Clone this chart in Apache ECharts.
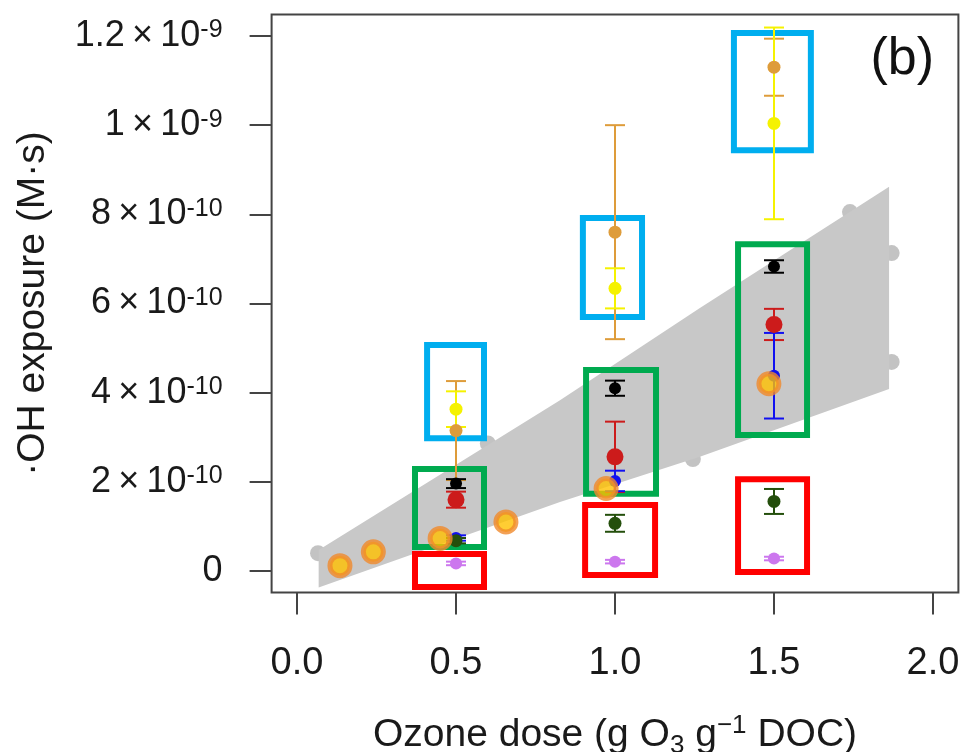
<!DOCTYPE html>
<html>
<head>
<meta charset="utf-8">
<script src="https://cdn.jsdelivr.net/npm/echarts@6/dist/echarts.min.js"></script>
<style>
  html, body { margin: 0; padding: 0; background: #fff; }
  #chart { width: 965px; height: 752px; }
</style>
</head>
<body>
<div id="chart"></div>
<script>
// ---- data (·OH exposure in units of 1e-10 M·s) ----
const doses = [0.5, 1.0, 1.5];

const orangeVals = [3.15, 7.60, 11.30];
const orangeErr  = [1.11, 2.40, 0.64];
const yellowVals = [3.63, 6.34, 10.04];
const yellowErr  = [0.40, 0.45, 2.15];
const blackVals  = [1.96, 4.10, 6.83];
const blackErr   = [0.10, 0.17, 0.14];
const redVals    = [1.60, 2.56, 5.53];
const redErr     = [0.18, 0.79, 0.35];
const blueVals   = [0.74, 2.02, 4.38];
const blueErr    = [0.06, 0.23, 0.96];
const greenVals  = [0.68, 1.07, 1.56];
const greenErr   = [0.06, 0.19, 0.28];
const violetVals = [0.17, 0.21, 0.28];
const violetErr  = [0.04, 0.04, 0.04];

const effluentDose = [0.135, 0.24, 0.45, 0.657, 0.972, 1.484];
const effluentVals = [0.12, 0.43, 0.73, 1.10, 1.85, 4.20];

const fitDose = [0.066, 0.60, 1.245, 1.739, 1.87, 1.87];
const fitVals = [0.40, 2.86, 2.51, 8.05, 7.13, 4.69];

const bandDose  = [0.068, 0.827, 1.267, 1.862];
const bandUpper = [0.47, 3.83, 5.90, 8.62];
const bandLower = [-0.37, 1.55, 2.56, 4.08];

// highlight boxes: [dose from, dose to, exposure from, exposure to]
const boxesBlue  = [[0.409, 0.588, 2.98, 5.07], [0.899, 1.085, 5.70, 7.92], [1.374, 1.616, 9.44, 12.07]];
const boxesGreen = [[0.371, 0.588, 0.54, 2.29], [0.909, 1.129, 1.73, 4.51], [1.387, 1.604, 3.05, 7.33]];
const boxesRed   = [[0.371, 0.588, -0.36, 0.38], [0.906, 1.126, -0.09, 1.48], [1.387, 1.604, -0.02, 2.06]];

const xTicks = [0, 0.5, 1.0, 1.5, 2.0];
const yTicks = [0, 2, 4, 6, 8, 10, 12];
const yTickMant = ['0', '2', '4', '6', '8', '1', '1.2'];
const yTickExp  = ['', '-10', '-10', '-10', '-10', '-9', '-9'];

// ---- helpers ----
const FONT = '"Liberation Sans", Arial, Helvetica, sans-serif';
const INK = '#1a1a1a';

function boxSeries(boxes, color) {
  return {
    type: 'custom', z: 3, silent: true,
    data: boxes,
    encode: { x: [0, 1], y: [2, 3] },
    renderItem: (params, api) => {
      const p0 = api.coord([api.value(0), api.value(3)]);
      const p1 = api.coord([api.value(1), api.value(2)]);
      return {
        type: 'rect',
        shape: { x: p0[0], y: p0[1], width: p1[0] - p0[0], height: p1[1] - p0[1] },
        style: { fill: 'none', stroke: color, lineWidth: 6 }
      };
    }
  };
}

function errorSeries(vals, errs, color) {
  return {
    type: 'custom', z: 4, silent: true,
    data: doses.map((d, i) => [d, vals[i] - errs[i], vals[i] + errs[i]]),
    encode: { x: 0, y: [1, 2] },
    renderItem: (params, api) => {
      const lo = api.coord([api.value(0), api.value(1)]);
      const hi = api.coord([api.value(0), api.value(2)]);
      const w = 10;
      const st = { stroke: color, lineWidth: 2 };
      return {
        type: 'group',
        children: [
          { type: 'line', shape: { x1: hi[0], y1: hi[1], x2: lo[0], y2: lo[1] }, style: st },
          { type: 'line', shape: { x1: hi[0] - w, y1: hi[1], x2: hi[0] + w, y2: hi[1] }, style: st },
          { type: 'line', shape: { x1: lo[0] - w, y1: lo[1], x2: lo[0] + w, y2: lo[1] }, style: st }
        ]
      };
    }
  };
}

function pointSeries(vals, color, size) {
  return {
    type: 'scatter', z: 4, silent: true,
    symbol: 'circle', symbolSize: size,
    itemStyle: { color: color, opacity: 1 },
    data: doses.map((d, i) => [d, vals[i]])
  };
}

const probes = [
  [orangeVals, orangeErr, '#DE9C3A', 13],
  [yellowVals, yellowErr, '#F5F200', 13],
  [blackVals, blackErr, '#000000', 12],
  [redVals, redErr, '#CC1B1B', 17],
  [blueVals, blueErr, '#1010F0', 12],
  [greenVals, greenErr, '#244F0C', 13],
  [violetVals, violetErr, '#CC77EE', 12]
];

const series = [];

// confidence band of the fit
series.push({
  type: 'custom', z: 1, silent: true,
  data: bandDose.map((d, i) => [d, bandLower[i], bandUpper[i]]),
  encode: { x: 0, y: [1, 2] },
  renderItem: (params, api) => {
    if (params.dataIndex !== 0) return null;
    const pts = [];
    for (let i = 0; i < bandDose.length; i++) pts.push(api.coord([bandDose[i], bandUpper[i]]));
    for (let i = bandDose.length - 1; i >= 0; i--) pts.push(api.coord([bandDose[i], bandLower[i]]));
    return { type: 'polygon', shape: { points: pts }, style: { fill: '#C8C8C8' } };
  }
});

// data behind the fit
series.push({
  type: 'scatter', z: 0, silent: true, symbolSize: 16,
  itemStyle: { color: '#B4B4B4' },
  data: fitDose.map((d, i) => [d, fitVals[i]])
});

series.push(boxSeries(boxesBlue, '#00AEEF'));
series.push(boxSeries(boxesGreen, '#00AA4F'));
series.push(boxSeries(boxesRed, '#FF0000'));

probes.forEach(([v, e, c, s]) => {
  series.push(errorSeries(v, e, c));
  series.push(pointSeries(v, c, s));
});

// effluent measurements
series.push({
  type: 'scatter', z: 5, silent: true, symbolSize: 20,
  itemStyle: { color: '#FFC000', borderColor: '#F08A2C', borderWidth: 5 },
  data: effluentDose.map((d, i) => [d, effluentVals[i]])
});

const chart = echarts.init(document.getElementById('chart'), null, { renderer: 'canvas' });

chart.setOption({
  animation: false,
  backgroundColor: '#ffffff',
  title: {
    text: '(b)', right: 26, top: 29,
    textStyle: { fontFamily: FONT, fontSize: 52, fontWeight: 'normal', color: '#111' }
  },
  grid: {
    left: 271.6, top: 14.6, width: 686.8, height: 577.8,
    outerBoundsMode: 'none', containLabel: false,
    show: true, borderColor: '#444', borderWidth: 2, backgroundColor: 'transparent'
  },
  xAxis: {
    type: 'value', min: -0.08, max: 2.08,
    axisLine: { show: false, onZero: false },
    splitLine: { show: false },
    axisTick: { show: true, inside: false, customValues: xTicks, length: 22, lineStyle: { color: '#444', width: 2 } },
    axisLabel: {
      customValues: xTicks, margin: 52,
      formatter: v => v.toFixed(1),
      fontFamily: FONT, fontSize: 38, color: INK
    },
    name: '{t|Ozone dose (g O}{sub|3}{t| g}{sup|\u22121}{t| DOC)}',
    nameLocation: 'middle', nameGap: 120,
    nameTextStyle: {
      fontFamily: FONT, color: INK,
      rich: {
        t: { fontFamily: FONT, fontSize: 39, color: INK, lineHeight: 46, verticalAlign: 'middle' },
        sub: { fontFamily: FONT, fontSize: 26, color: INK, lineHeight: 46, verticalAlign: 'bottom' },
        sup: { fontFamily: FONT, fontSize: 26, color: INK, lineHeight: 46, verticalAlign: 'top' }
      }
    }
  },
  yAxis: {
    type: 'value', min: -0.48, max: 12.48,
    axisLine: { show: false, onZero: false },
    splitLine: { show: false },
    axisTick: { show: true, inside: false, customValues: yTicks, length: 22, lineStyle: { color: '#444', width: 2 } },
    axisLabel: {
      customValues: yTicks, margin: 49,
      formatter: v => {
        const i = yTicks.findIndex(t => Math.abs(t - v) < 1e-6);
        if (i < 0) return '';
        if (!yTickExp[i]) return '{m|' + yTickMant[i] + '}';
        return '{m|' + yTickMant[i] + '\u2009\u00d7\u200910}{e|' + yTickExp[i] + '}';
      },
      rich: {
        m: { fontFamily: FONT, fontSize: 36, color: INK, lineHeight: 36, verticalAlign: 'bottom' },
        e: { fontFamily: FONT, fontSize: 25, color: INK, lineHeight: 26, padding: [0, 0, 21, 0], verticalAlign: 'top' }
      }
    },
    name: '\u00b7OH exposure (M\u00b7s)',
    nameLocation: 'middle', nameRotate: 90, nameGap: 219,
    nameTextStyle: { fontFamily: FONT, fontSize: 39, color: INK }
  },
  series: series
});
</script>
</body>
</html>
